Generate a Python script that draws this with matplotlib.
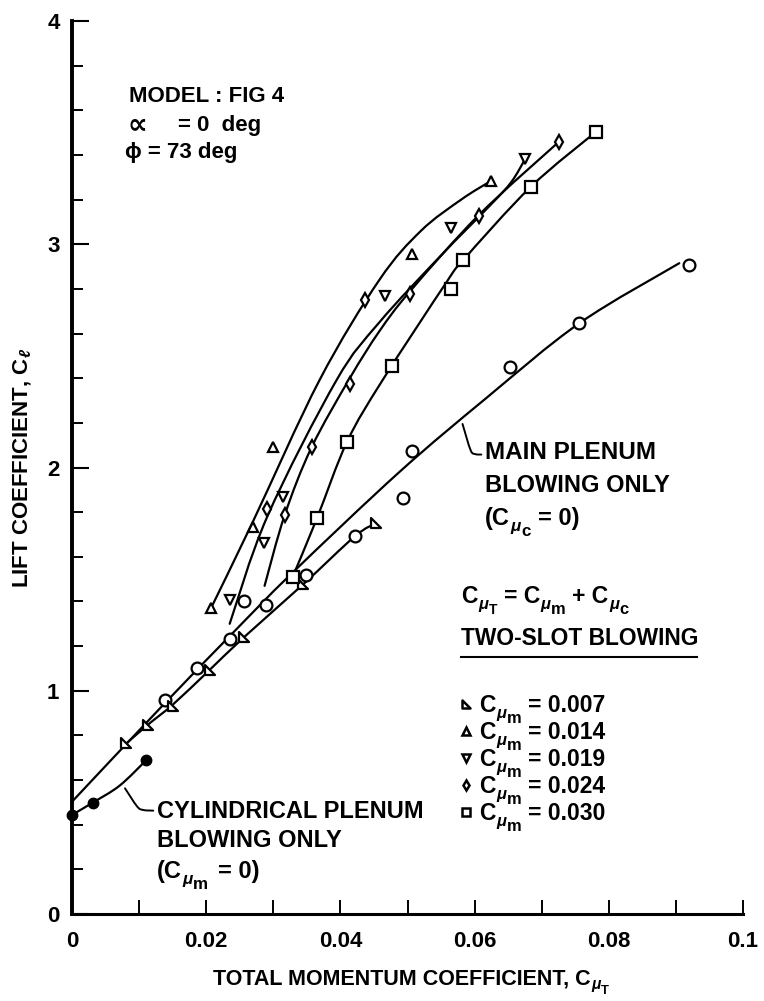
import matplotlib
matplotlib.use("Agg")
import matplotlib.pyplot as plt
from matplotlib.path import Path
from matplotlib.patches import PathPatch

plt.rcParams.update({
    "font.family": ["Liberation Sans", "DejaVu Sans"],
    "font.weight": "bold",
    "mathtext.fontset": "custom",
    "mathtext.rm": "Liberation Sans:bold",
    "mathtext.it": "Liberation Sans:italic:bold",
    "mathtext.bf": "Liberation Sans:bold",
})

# ---- measured points -------------------------------------------------------
# main plenum blowing only (C_mu_c = 0)
main_x = [0.0139, 0.0187, 0.0236, 0.0256, 0.0289, 0.0348, 0.0422, 0.0494,
          0.0506, 0.0653, 0.0756, 0.0919]
main_y = [0.959, 1.103, 1.232, 1.400, 1.384, 1.518, 1.693, 1.862,
          2.075, 2.452, 2.646, 2.907]
# cylindrical plenum blowing only (C_mu_m = 0)
cyl_x = [0.0, 0.0031, 0.0111]
cyl_y = [0.444, 0.499, 0.690]
# two-slot blowing, one list per C_mu_m
s007_x = [0.0081, 0.0114, 0.0151, 0.0205, 0.0256, 0.0345, 0.0453]
s007_y = [0.764, 0.847, 0.932, 1.093, 1.239, 1.478, 1.750]
s014_x = [0.0207, 0.0270, 0.0300, 0.0506, 0.0624]
s014_y = [1.369, 1.735, 2.093, 2.958, 3.283]
s019_x = [0.0235, 0.0286, 0.0314, 0.0466, 0.0565, 0.0675]
s019_y = [1.406, 1.663, 1.866, 2.768, 3.074, 3.380]
s024_x = [0.0291, 0.0317, 0.0357, 0.0414, 0.0436, 0.0504, 0.0606, 0.0726]
s024_y = [1.813, 1.787, 2.090, 2.374, 2.750, 2.776, 3.127, 3.459]
s030_x = [0.0329, 0.0365, 0.0410, 0.0477, 0.0565, 0.0583, 0.0684, 0.0781]
s030_y = [1.511, 1.772, 2.116, 2.455, 2.800, 2.929, 3.258, 3.504]

# ---- faired curves (points the fairing passes through) ----------------------
fair_main_x = [0.0, 0.0137, 0.0240, 0.0329, 0.0488, 0.0617, 0.0756, 0.0905]
fair_main_y = [0.503, 0.940, 1.260, 1.530, 1.980, 2.310, 2.646, 2.915]
fair_cyl_x = [0.0, 0.0031, 0.0071, 0.0111]
fair_cyl_y = [0.444, 0.499, 0.575, 0.690]
fair_007_x = [0.0081, 0.0114, 0.0151, 0.0205, 0.0256, 0.0345, 0.0422, 0.0453]
fair_007_y = [0.764, 0.850, 0.940, 1.093, 1.239, 1.478, 1.693, 1.750]
fair_014_x = [0.0207, 0.0270, 0.0369, 0.0458, 0.0520, 0.0580, 0.0624]
fair_014_y = [1.369, 1.760, 2.392, 2.840, 3.060, 3.200, 3.283]
fair_019_x = [0.0235, 0.0291, 0.0394, 0.0458, 0.0550, 0.0625, 0.0655, 0.0675]
fair_019_y = [1.300, 1.780, 2.390, 2.650, 2.950, 3.180, 3.280, 3.380]
fair_024_x = [0.0287, 0.0317, 0.0357, 0.0414, 0.0458, 0.0504, 0.0606, 0.0726]
fair_024_y = [1.470, 1.787, 2.090, 2.400, 2.610, 2.790, 3.130, 3.460]
fair_030_x = [0.0329, 0.0365, 0.0410, 0.0463, 0.0557, 0.0583, 0.0684, 0.0781]
fair_030_y = [1.511, 1.772, 2.116, 2.392, 2.825, 2.929, 3.258, 3.504]

legend_values = ["0.007", "0.014", "0.019", "0.024", "0.030"]

x_ticks = [0.0, 0.01, 0.02, 0.03, 0.04, 0.05, 0.06, 0.07, 0.08, 0.09, 0.1]
x_ticklabels = ["0", "", "0.02", "", "0.04", "", "0.06", "", "0.08", "", "0.1"]
y_major = [0, 1, 2, 3, 4]
y_minor = [0.2, 0.4, 0.6, 0.8, 1.2, 1.4, 1.6, 1.8, 2.2, 2.4, 2.6, 2.8,
           3.2, 3.4, 3.6, 3.8]

MU = "\u03bc"

# ---- figure -----------------------------------------------------------------
fig = plt.figure(figsize=(7.64, 10.01), dpi=100)
ax = fig.add_axes([72 / 764, 87 / 1001, 671 / 764, 893 / 1001])
ax.set_xlim(0, 0.1)
ax.set_ylim(0, 4)
for side in ("top", "right"):
    ax.spines[side].set_visible(False)
ax.spines["left"].set_linewidth(2.8)
ax.spines["bottom"].set_linewidth(2.2)

ax.set_xticks(x_ticks)
ax.set_xticklabels(x_ticklabels)
ax.set_yticks(y_major)
ax.set_yticks(y_minor, minor=True)
ax.tick_params(axis="x", direction="in", length=10, width=1.4, pad=12,
               labelsize=16)
ax.tick_params(axis="y", which="major", direction="in", length=12, width=1.5,
               pad=9, labelsize=16)
ax.tick_params(axis="y", which="minor", direction="in", length=8, width=1.4)
for lab in ax.get_xticklabels() + ax.get_yticklabels():
    lab.set_fontweight("bold")

ax.set_ylabel(r"LIFT COEFFICIENT, C$_\ell$", fontsize=16, fontweight="bold",
              labelpad=10)

renderer = fig.canvas.get_renderer()
PT = fig.dpi / 72.0


def write_runs(x_px, base_px, runs, size):
    """Write consecutive text pieces along one baseline (display pixels)."""
    cur = x_px
    for text, rel, rise, gap in runs:
        t = fig.text(cur / fig.bbox.width,
                     (base_px + rise * size * PT) / fig.bbox.height, text,
                     fontsize=size * rel, fontweight="bold",
                     style="italic" if text == MU else "normal",
                     va="baseline", ha="left")
        cur = t.get_window_extent(renderer).x1 + gap * size * PT
    return cur


def write_at(x, y, runs, size):
    """Place a run of text whose left/centre sits at data (x, y)."""
    px, py = ax.transData.transform((x, y))
    return write_runs(px, py - 0.36 * size * PT, runs, size)


def smooth_curve(xs, ys, lw=1.6):
    """Draw a smooth cubic curve through the given points."""
    pts = list(zip(xs, ys))
    n = len(pts)
    verts = [pts[0]]
    codes = [Path.MOVETO]
    for i in range(n - 1):
        p0 = pts[i - 1] if i > 0 else pts[i]
        p1, p2 = pts[i], pts[i + 1]
        p3 = pts[i + 2] if i + 2 < n else pts[i + 1]
        c1 = (p1[0] + (p2[0] - p0[0]) / 6, p1[1] + (p2[1] - p0[1]) / 6)
        c2 = (p2[0] - (p3[0] - p1[0]) / 6, p2[1] - (p3[1] - p1[1]) / 6)
        verts += [c1, c2, p2]
        codes += [Path.CURVE4] * 3
    ax.add_patch(PathPatch(Path(verts, codes), fill=False, lw=lw,
                           edgecolor="black", capstyle="round",
                           joinstyle="round", zorder=2))


for fx, fy in [(fair_main_x, fair_main_y), (fair_cyl_x, fair_cyl_y),
               (fair_007_x, fair_007_y), (fair_014_x, fair_014_y),
               (fair_019_x, fair_019_y), (fair_024_x, fair_024_y),
               (fair_030_x, fair_030_y)]:
    smooth_curve(fx, fy)

# right-triangle symbol used for C_mu_m = 0.007
rtri = Path([(-1, 1), (-1, -1), (1, -1), (-1, 1)],
            [Path.MOVETO, Path.LINETO, Path.LINETO, Path.CLOSEPOLY])

open_kw = dict(ls="none", mfc="white", mec="black", mew=1.6, zorder=3)
ax.plot(main_x, main_y, marker="o", ms=8.5, **open_kw)
ax.plot(cyl_x, cyl_y, marker="o", ms=7.5, ls="none", color="black",
        zorder=3, clip_on=False)
series_styles = [
    (s007_x, s007_y, rtri, 7),
    (s014_x, s014_y, "^", 7),
    (s019_x, s019_y, "v", 7),
    (s024_x, s024_y, "d", 7.5),
    (s030_x, s030_y, "s", 8),
]
for sx, sy, mk, ms in series_styles:
    ax.plot(sx, sy, marker=mk, ms=ms, **open_kw)

# ---- annotations ------------------------------------------------------------
ax.text(0.0085, 3.66, "MODEL : FIG 4", fontsize=16, fontweight="bold",
        va="center")
ax.text(0.0082, 3.534, "\u221d", fontsize=20, fontweight="bold", va="center")
ax.text(0.0158, 3.534, "= 0  deg", fontsize=16, fontweight="bold", va="center")
ax.text(0.0079, 3.409, "\u03d5 = 73 deg", fontsize=16, fontweight="bold",
        va="center")

# main plenum label with hook leader
smooth_curve([0.0582, 0.0594, 0.0601, 0.0610], [2.195, 2.078, 2.060, 2.058],
             lw=1.4)
ax.text(0.0616, 2.065, "MAIN PLENUM", fontsize=17.5, fontweight="bold",
        va="center")
ax.text(0.0616, 1.920, "BLOWING ONLY", fontsize=17, fontweight="bold",
        va="center")
write_at(0.0616, 1.780, [("(C", 1, 0, 0.02), (MU, 0.72, -0.25, 0.02),
                         ("c", 0.72, -0.48, 0.3), ("= 0)", 1, 0, 0)], 17)

# cylindrical plenum label with hook leader
smooth_curve([0.0079, 0.0097, 0.0106, 0.0121], [0.563, 0.482, 0.466, 0.463],
             lw=1.4)
ax.text(0.0126, 0.457, "CYLINDRICAL PLENUM", fontsize=17, fontweight="bold",
        va="center")
ax.text(0.0126, 0.328, "BLOWING ONLY", fontsize=17, fontweight="bold",
        va="center")
write_at(0.0126, 0.200, [("(C", 1, 0, 0.02), (MU, 0.72, -0.25, 0.02),
                         ("m", 0.72, -0.48, 0.45), ("= 0)", 1, 0, 0)], 17)

# definitions and symbol key
write_at(0.0580, 1.429,
         [("C", 1, 0, 0.02), (MU, 0.72, -0.25, 0.02), ("T", 0.6, -0.45, 0.3),
          ("= C", 1, 0, 0.02), (MU, 0.72, -0.25, 0.02), ("m", 0.72, -0.48, 0.3),
          ("+ C", 1, 0, 0.02), (MU, 0.72, -0.25, 0.02), ("c", 0.72, -0.48, 0)],
         16.5)
ax.text(0.0580, 1.236, "TWO-SLOT BLOWING", fontsize=16.4, fontweight="bold",
        va="center")
ax.plot([0.0580, 0.0932], [1.151, 1.151], color="black", lw=1.5,
        clip_on=False)
key_y = [0.941, 0.820, 0.699, 0.578, 0.457]
key_markers = [rtri, "^", "v", "d", "s"]
for ky, mk, val in zip(key_y, key_markers, legend_values):
    ax.plot([0.0587], [ky], marker=mk, ms=5.5, ls="none", mfc="white",
            mec="black", mew=1.8)
    write_at(0.0607, ky, [("C", 1, 0, 0.02), (MU, 0.72, -0.25, 0.02),
                          ("m", 0.72, -0.48, 0.3), ("= " + val, 1, 0, 0)],
             16.5)

# x-axis title
write_runs(213, 1001 - 984,
           [("TOTAL MOMENTUM COEFFICIENT, C", 1, 0, 0.02),
            (MU, 0.72, -0.25, 0.02), ("T", 0.6, -0.45, 0)], 15.5)

fig.savefig("out.png", dpi=100, facecolor="white")
